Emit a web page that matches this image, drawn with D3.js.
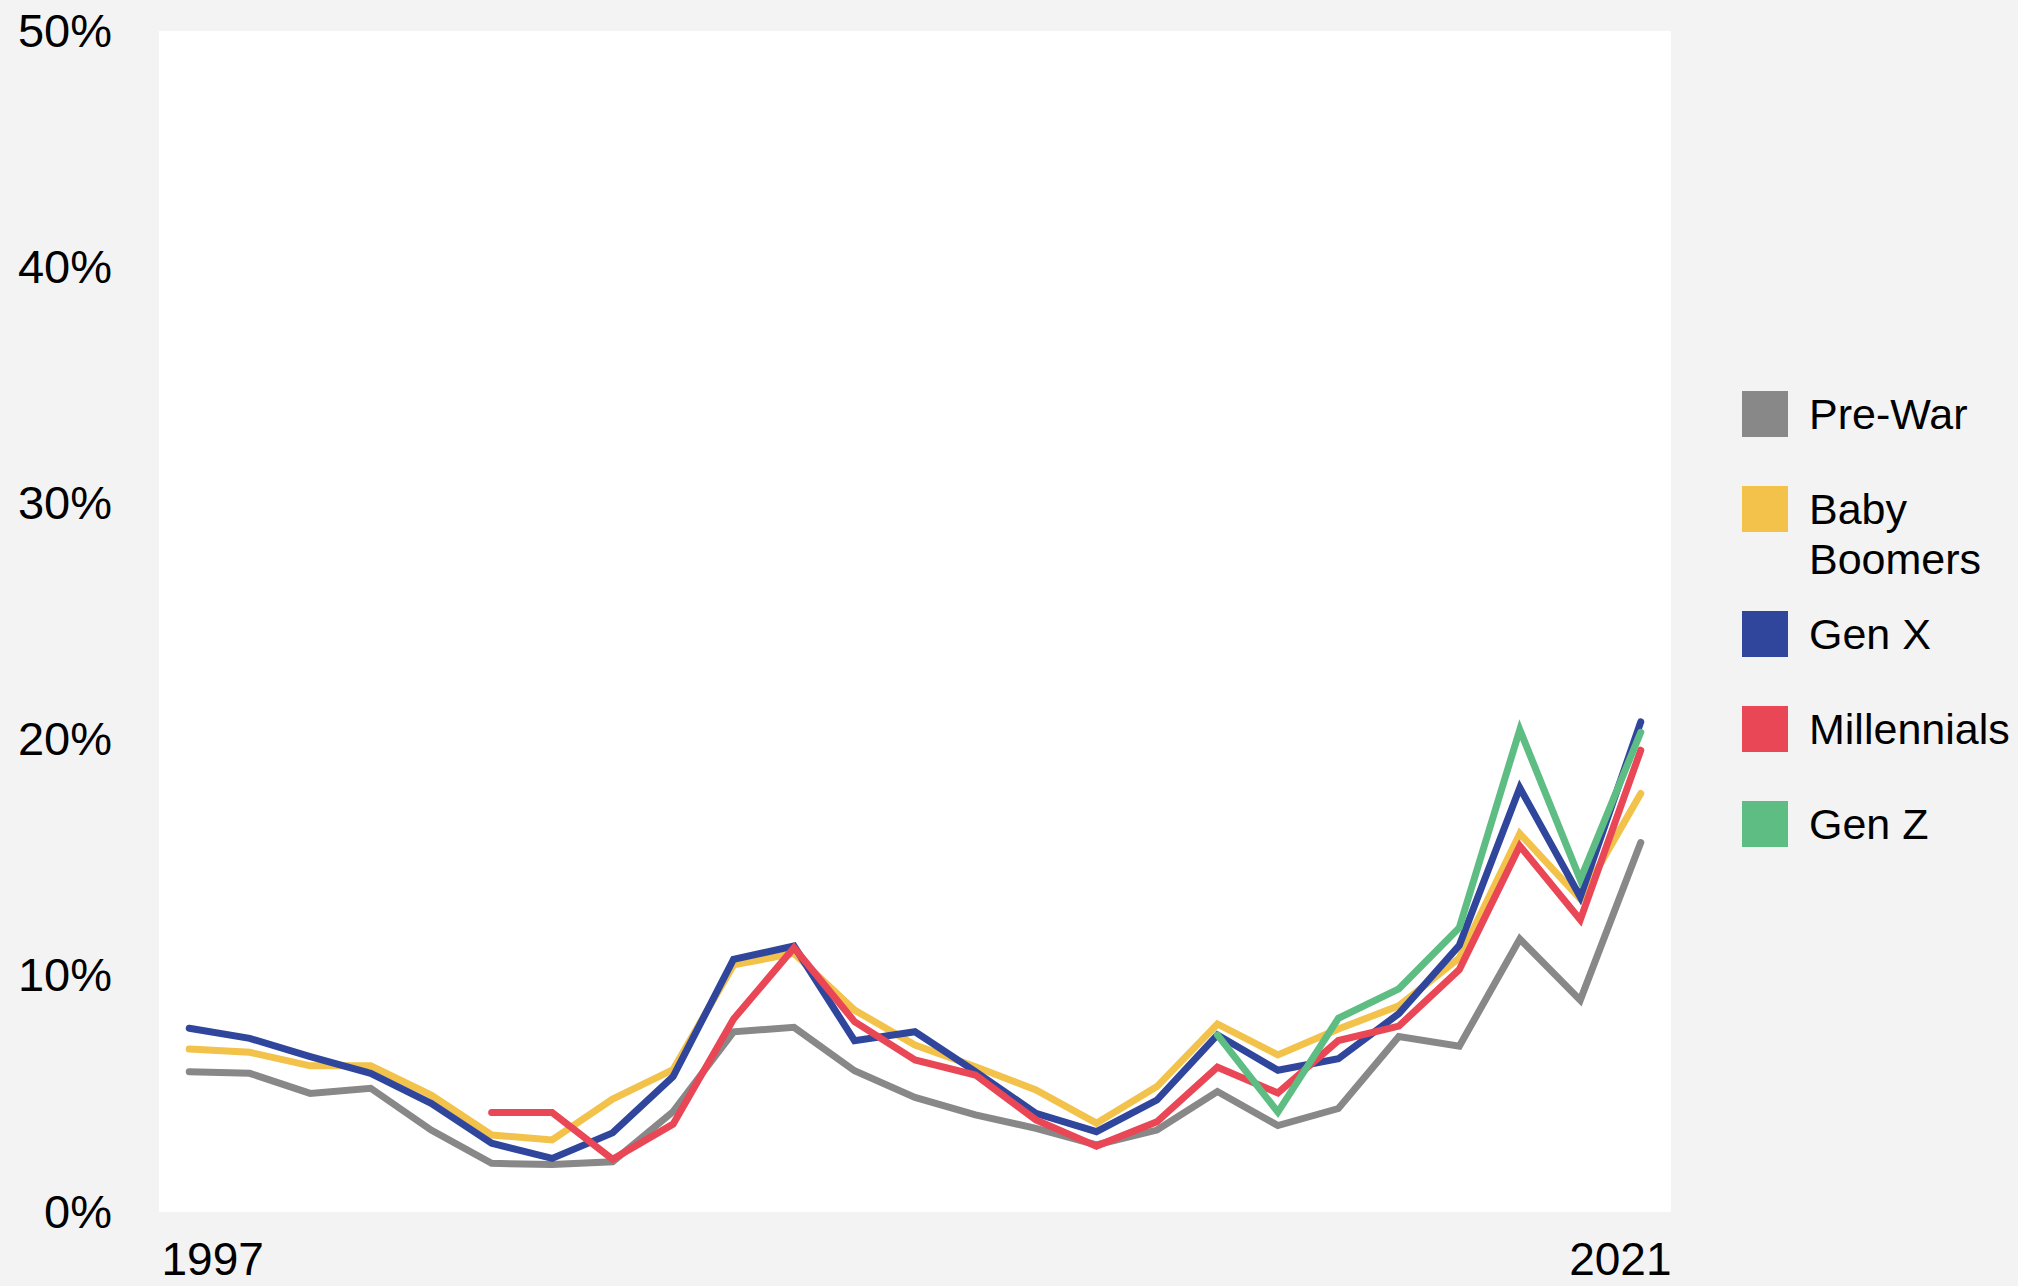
<!DOCTYPE html>
<html>
<head>
<meta charset="utf-8">
<script src="https://cdn.jsdelivr.net/npm/d3@7"></script>
<style>
  html, body { margin: 0; padding: 0; background: #f3f3f3; }
  svg { display: block; font-family: "Liberation Sans", Arial, Helvetica, sans-serif; }
</style>
</head>
<body>
<svg id="chart" width="2018" height="1286"></svg>
<script>
// ---- data ----
const years = d3.range(1997, 2022);
const seriesNames = ["Pre-War", "Baby Boomers", "Gen X", "Millennials", "Gen Z"];
const seriesColors = ["#888888", "#f2c24a", "#2f469c", "#e94656", "#5ebd83"];
const preWar = [5.94, 5.87, 5.02, 5.24, 3.47, 2.06, 2.01, 2.13, 4.25, 7.63, 7.82, 5.98, 4.85, 4.11, 3.54, 2.84, 3.47, 5.10, 3.66, 4.38, 7.43, 7.02, 11.56, 8.97, 15.64];
const babyBoomers = [6.90, 6.76, 6.19, 6.19, 4.95, 3.26, 3.05, 4.78, 6.03, 10.46, 10.95, 8.55, 7.07, 6.15, 5.17, 3.76, 5.31, 7.96, 6.65, 7.75, 8.73, 10.75, 16.02, 13.26, 17.72];
const genX = [7.78, 7.35, 6.58, 5.87, 4.60, 2.91, 2.27, 3.35, 5.73, 10.70, 11.26, 7.25, 7.63, 5.94, 4.18, 3.40, 4.74, 7.50, 6.00, 6.49, 8.40, 11.29, 17.96, 13.34, 20.75];
const millennials = [null, null, null, null, null, 4.21, 4.21, 2.23, 3.72, 8.17, 11.19, 8.06, 6.44, 5.80, 3.90, 2.79, 3.82, 6.13, 5.04, 7.26, 7.87, 10.26, 15.50, 12.37, 19.55];
const genZ = [null, null, null, null, null, null, null, null, null, null, null, null, null, null, null, null, null, 7.50, 4.23, 8.20, 9.45, 12.04, 20.42, 14.07, 20.31];
const seriesValues = [preWar, babyBoomers, genX, millennials, genZ];
const yTicks = [0, 10, 20, 30, 40, 50];
const xTickLabels = [1997, 2021];

// ---- layout ----
const W = 2018, H = 1286;
const plot = { left: 159, top: 31, right: 1671, bottom: 1212 };
const svg = d3.select("#chart");

svg.append("rect").attr("width", W).attr("height", H).attr("fill", "#f3f3f3");
svg.append("rect")
  .attr("x", plot.left).attr("y", plot.top)
  .attr("width", plot.right - plot.left).attr("height", plot.bottom - plot.top)
  .attr("fill", "#ffffff");

const x = d3.scalePoint().domain(years).range([plot.left, plot.right]).padding(0.5);
const y = d3.scaleLinear().domain([0, 50]).range([plot.bottom, plot.top]);

// y axis
const yAxis = svg.append("g")
  .attr("transform", `translate(${plot.left},0)`)
  .call(d3.axisLeft(y).tickValues(yTicks).tickFormat(d => d + "%").tickSize(0).tickPadding(47));
yAxis.select(".domain").remove();
yAxis.selectAll("text").attr("font-size", 47).attr("fill", "#000").attr("font-family", null);

// x axis (first label left-aligned to plot edge, last right-aligned)
const xAxis = svg.append("g")
  .attr("transform", `translate(0,${plot.bottom})`)
  .call(d3.axisBottom(x).tickValues(xTickLabels).tickSize(0).tickPadding(30));
xAxis.select(".domain").remove();
xAxis.selectAll("text")
  .attr("font-size", 46).attr("fill", "#000").attr("font-family", null)
  .attr("text-anchor", (d, i) => i === 0 ? "start" : "end")
  .attr("x", d => d === xTickLabels[0] ? plot.left - x(d) + 2 : plot.right - x(d));

// lines
const line = d3.line()
  .defined(d => d.v != null)
  .x(d => x(d.year))
  .y(d => y(d.v));

seriesValues.forEach((vals, i) => {
  const pts = years.map((yr, j) => ({ year: yr, v: vals[j] }));
  svg.append("path")
    .datum(pts)
    .attr("d", line)
    .attr("fill", "none")
    .attr("stroke", seriesColors[i])
    .attr("stroke-width", 7)
    .attr("stroke-linecap", "round")
    .attr("stroke-linejoin", "miter");
});

// legend
const legendLabels = [["Pre-War"], ["Baby", "Boomers"], ["Gen X"], ["Millennials"], ["Gen Z"]];
const legend = svg.append("g");
let ly = 391;
legendLabels.forEach((lines, i) => {
  const g = legend.append("g").attr("transform", `translate(1742,${ly})`);
  g.append("rect").attr("width", 46).attr("height", 46).attr("fill", seriesColors[i]);
  const t = g.append("text").attr("x", 67).attr("y", 38).attr("font-size", 43).attr("fill", "#000");
  lines.forEach((ln, k) => {
    t.append("tspan").attr("x", 67).attr("dy", k === 0 ? 0 : 50).text(ln);
  });
  ly += 95 + (lines.length - 1) * 30;
});
</script>
</body>
</html>
